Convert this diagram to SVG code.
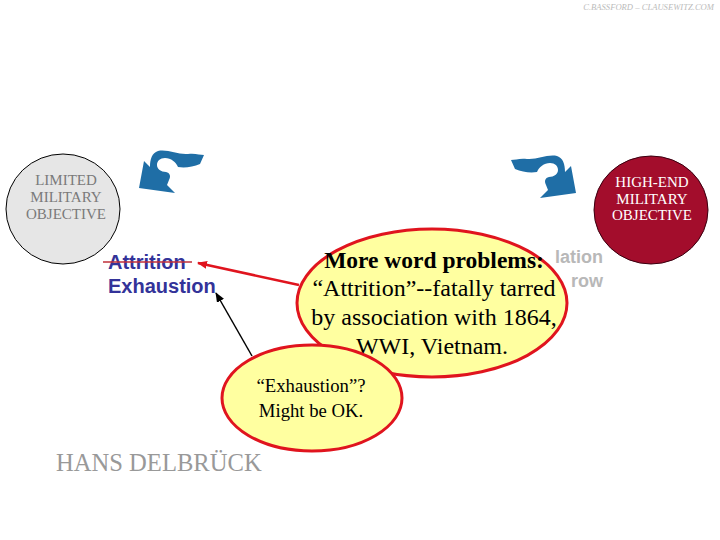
<svg xmlns="http://www.w3.org/2000/svg" width="720" height="540" viewBox="0 0 720 540">
<style>
.serif{font-family:"Liberation Serif","Times New Roman",serif}
.sans{font-family:"Liberation Sans",Arial,sans-serif;font-weight:bold}
.obj{font-size:15px;text-anchor:middle}
.bub{font-size:24px;text-anchor:middle;fill:#000}
.swoosh{fill:#1F6EA6}
</style>
<defs>
<marker id="ahRed" markerWidth="10" markerHeight="8" refX="9" refY="4" orient="auto" markerUnits="userSpaceOnUse">
<path d="M0,0 L10,4 L0,8 Z" fill="#E0141E"/>
</marker>
<marker id="ahBlk" markerWidth="10" markerHeight="8" refX="9" refY="4" orient="auto" markerUnits="userSpaceOnUse">
<path d="M0,0 L10,4 L0,8 Z" fill="#000"/>
</marker>
<path id="sw" d="M139,188 L144,161 L150,167 C150,159 152,153 158,151 C168,149 178,155 188,154 C195,153 200,155 204,155 L200,164 C193,167 185,168 178,167 C176,162 171,158 165,158 C160,158 157,161 157,165 C157,169 161,172 166,172 C170,173 171,176 169,180 L167,185 L175,193 Z"/>
</defs>
<rect width="720" height="540" fill="#fff"/>
<text x="714" y="10" class="serif" font-size="8.6" font-style="italic" fill="#bbb" text-anchor="end">C.BASSFORD – CLAUSEWITZ.COM</text>

<g id="swoosh-left"><use href="#sw" class="swoosh"/></g>
<g id="swoosh-right"><use href="#sw" class="swoosh" transform="translate(715,5) scale(-1,1)"/></g>

<g id="limited">
<ellipse cx="63" cy="209" rx="57" ry="55" fill="#E6E6E6" stroke="#000" stroke-width="1"/>
<text class="serif obj" fill="#7a7a7a"><tspan x="66" y="185">LIMITED</tspan><tspan x="66" y="202">MILITARY</tspan><tspan x="66" y="219">OBJECTIVE</tspan></text>
</g>

<g id="highend">
<ellipse cx="651" cy="210" rx="57" ry="54" fill="#A30D2C" stroke="#3a0010" stroke-width="1"/>
<text class="serif obj" fill="#fff"><tspan x="652" y="187">HIGH-END</tspan><tspan x="652" y="204">MILITARY</tspan><tspan x="652" y="220">OBJECTIVE</tspan></text>
</g>

<g id="terms">
<text class="sans" font-size="20" fill="#333399"><tspan x="108" y="269">Attrition</tspan><tspan x="108" y="293">Exhaustion</tspan></text>
<line x1="103" y1="262" x2="192" y2="262" stroke="#C0303A" stroke-width="1.5"/>
</g>

<g id="hidden-text">
<text class="sans" font-size="18" fill="#b8b8b8" text-anchor="end"><tspan x="603" y="263">lation</tspan><tspan x="603" y="287">row</tspan></text>
</g>

<g id="connectors">
<line x1="299" y1="285" x2="198" y2="263" stroke="#E0141E" stroke-width="2.5" marker-end="url(#ahRed)"/>
<line x1="252" y1="356" x2="216" y2="293" stroke="#000" stroke-width="1.5" marker-end="url(#ahBlk)"/>
</g>

<g id="bubble-big">
<ellipse cx="432" cy="303" rx="135" ry="74" fill="#FFFFA0" stroke="#E0141E" stroke-width="3"/>
<text class="serif bub"><tspan x="434" y="268" font-weight="bold" font-size="23.5">More word problems:</tspan><tspan x="434" y="296">“Attrition”--fatally tarred</tspan><tspan x="434" y="325">by association with 1864,</tspan><tspan x="432" y="354">WWI, Vietnam.</tspan></text>
</g>

<g id="bubble-small">
<ellipse cx="312" cy="398" rx="90" ry="53" fill="#FFFFA0" stroke="#E0141E" stroke-width="3"/>
<text class="serif" font-size="18.7" text-anchor="middle"><tspan x="311" y="392">“Exhaustion”?</tspan><tspan x="311" y="417">Might be OK.</tspan></text>
</g>

<text x="56" y="471" class="serif" font-size="24.6" fill="#999">HANS DELBRÜCK</text>
</svg>
